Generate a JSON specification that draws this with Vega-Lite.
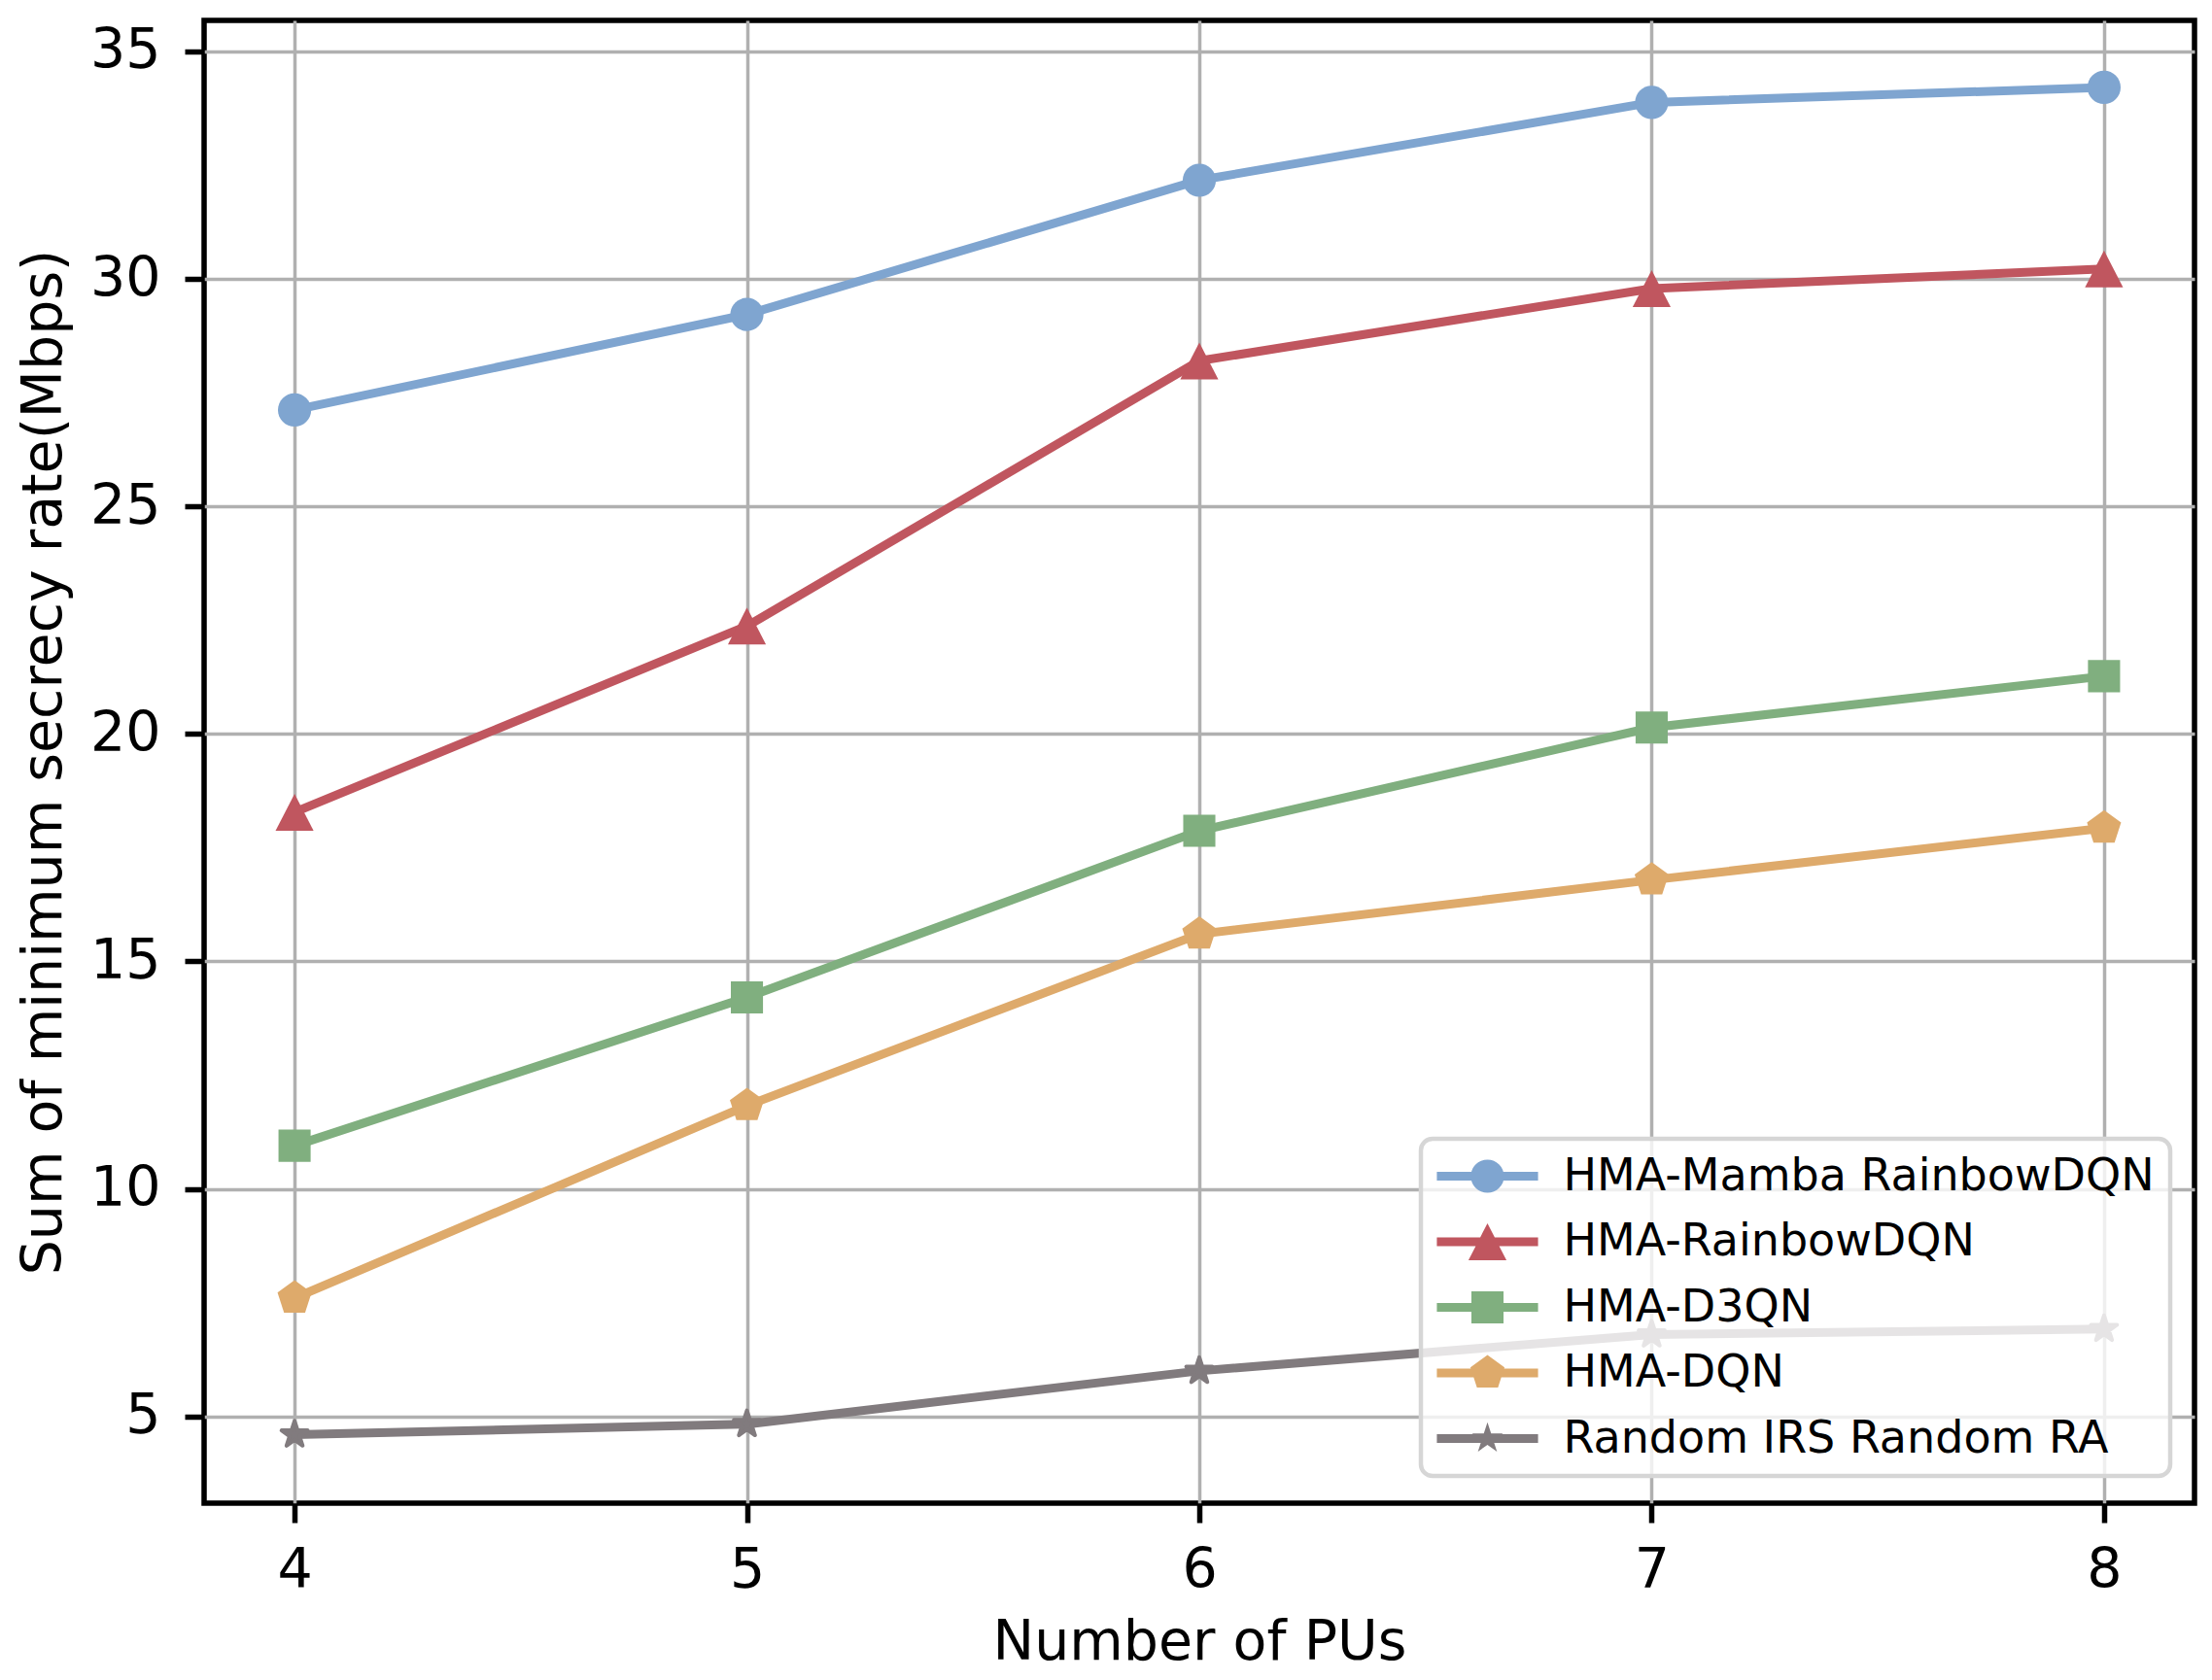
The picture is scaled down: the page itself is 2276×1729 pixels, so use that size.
{
  "$schema": "https://vega.github.io/schema/vega-lite/v6.json",
  "width": 2048,
  "height": 1526,
  "autosize": {"type": "none"},
  "padding": {"left": 210, "top": 21, "right": 18, "bottom": 182},
  "background": "white",
  "config": {
    "font": "DejaVu Sans",
    "view": {"stroke": "black", "strokeWidth": 5.5},
    "axis": {
      "domain": false,
      "grid": true,
      "gridColor": "#b0b0b0",
      "gridWidth": 3.5,
      "gridOpacity": 1,
      "tickColor": "black",
      "tickSize": 20,
      "tickWidth": 5.5,
      "labelFont": "DejaVu Sans",
      "labelFontSize": 57,
      "labelColor": "black",
      "titleFont": "DejaVu Sans",
      "titleFontSize": 57,
      "titleFontWeight": "normal",
      "titleColor": "black"
    }
  },
  "data": {
    "values": [
      {"s": "HMA-Mamba RainbowDQN", "n": 4, "v": 27.12},
      {"s": "HMA-Mamba RainbowDQN", "n": 5, "v": 29.22},
      {"s": "HMA-Mamba RainbowDQN", "n": 6, "v": 32.17},
      {"s": "HMA-Mamba RainbowDQN", "n": 7, "v": 33.88},
      {"s": "HMA-Mamba RainbowDQN", "n": 8, "v": 34.21},
      {"s": "HMA-RainbowDQN", "n": 4, "v": 18.28},
      {"s": "HMA-RainbowDQN", "n": 5, "v": 22.37},
      {"s": "HMA-RainbowDQN", "n": 6, "v": 28.2},
      {"s": "HMA-RainbowDQN", "n": 7, "v": 29.79},
      {"s": "HMA-RainbowDQN", "n": 8, "v": 30.22},
      {"s": "HMA-D3QN", "n": 4, "v": 10.95},
      {"s": "HMA-D3QN", "n": 5, "v": 14.21},
      {"s": "HMA-D3QN", "n": 6, "v": 17.87},
      {"s": "HMA-D3QN", "n": 7, "v": 20.14},
      {"s": "HMA-D3QN", "n": 8, "v": 21.27},
      {"s": "HMA-DQN", "n": 4, "v": 7.6},
      {"s": "HMA-DQN", "n": 5, "v": 11.83},
      {"s": "HMA-DQN", "n": 6, "v": 15.6},
      {"s": "HMA-DQN", "n": 7, "v": 16.79},
      {"s": "HMA-DQN", "n": 8, "v": 17.93},
      {"s": "Random IRS Random RA", "n": 4, "v": 4.6},
      {"s": "Random IRS Random RA", "n": 5, "v": 4.83},
      {"s": "Random IRS Random RA", "n": 6, "v": 6.0},
      {"s": "Random IRS Random RA", "n": 7, "v": 6.8},
      {"s": "Random IRS Random RA", "n": 8, "v": 6.92}
    ]
  },
  "encoding": {
    "x": {
      "field": "n",
      "type": "quantitative",
      "scale": {"domain": [3.8, 8.2], "nice": false, "zero": false},
      "axis": {"values": [4, 5, 6, 7, 8], "format": "d", "title": "Number of PUs", "labelPadding": 21, "titlePadding": 18}
    },
    "y": {
      "field": "v",
      "type": "quantitative",
      "scale": {"domain": [3.093, 35.683], "nice": false, "zero": false},
      "axis": {"values": [5, 10, 15, 20, 25, 30, 35], "format": "d", "title": "Sum of minimum secrecy rate(Mbps)", "labelPadding": 25, "titlePadding": 18}
    },
    "color": {
      "field": "s",
      "type": "nominal",
      "scale": {
        "domain": ["HMA-Mamba RainbowDQN", "HMA-RainbowDQN", "HMA-D3QN", "HMA-DQN", "Random IRS Random RA"],
        "range": ["#7fa5d0", "#c0565f", "#80af7f", "#deaa6b", "#817b7e"]
      },
      "legend": {
        "title": null,
        "orient": "none",
        "legendX": 1252,
        "legendY": 1151,
        "padding": 15.5,
        "rowPadding": 21.5,
        "symbolSize": 1444,
        "symbolOffset": 30,
        "labelOffset": 55,
        "labelFont": "DejaVu Sans",
        "labelFontSize": 46,
        "labelColor": "black",
        "labelLimit": 1000,
        "strokeColor": "#d6d6d6",
        "fillColor": "rgba(255,255,255,0.8)",
        "cornerRadius": 12,
        "symbolOpacity": 1,
        "encode": {
          "legend": {"update": {"strokeWidth": {"value": 4.5}}},
          "symbols": {
            "update": {
              "shape": {"signal": "datum.value == 'HMA-Mamba RainbowDQN' ? 'M-2.74,-0.24H2.74V0.24H-2.74Z M0.9,0A0.9,0.9 0 1,1 -0.9,0A0.9,0.9 0 1,1 0.9,0Z' : datum.value == 'HMA-RainbowDQN' ? 'M-2.74,-0.24H2.74V0.24H-2.74Z M0,-1L1.03,1L-1.03,1Z' : datum.value == 'HMA-D3QN' ? 'M-2.74,-0.24H2.74V0.24H-2.74Z M-0.87,-0.87H0.87V0.87H-0.87Z' : datum.value == 'HMA-DQN' ? 'M-2.74,-0.24H2.74V0.24H-2.74Z M0,-0.97L0.923,-0.3L0.57,0.785L-0.57,0.785L-0.923,-0.3Z' : 'M-2.74,-0.24H2.74V0.24H-2.74Z M0,-0.88L0.198,-0.272L0.837,-0.272L0.32,0.104L0.517,0.712L0,0.336L-0.517,0.712L-0.32,0.104L-0.837,-0.272L-0.198,-0.272Z'"},
              "fill": {"scale": "color", "field": "value"},
              "strokeWidth": {"value": 0},
              "opacity": {"value": 1},
              "size": {"value": 1444}
            }
          }
        }
      }
    }
  },
  "layer": [
    {
      "mark": {"type": "line", "strokeWidth": 9}
    },
    {
      "transform": [{"filter": {"field": "s", "equal": "HMA-Mamba RainbowDQN"}}],
      "mark": {"type": "point", "filled": true, "opacity": 1, "size": 1444, "shape": "M0.9,0A0.9,0.9 0 1,1 -0.9,0A0.9,0.9 0 1,1 0.9,0Z"}
    },
    {
      "transform": [{"filter": {"field": "s", "equal": "HMA-RainbowDQN"}}],
      "mark": {"type": "point", "filled": true, "opacity": 1, "size": 1444, "shape": "M0,-1L1.03,1L-1.03,1Z"}
    },
    {
      "transform": [{"filter": {"field": "s", "equal": "HMA-D3QN"}}],
      "mark": {"type": "point", "filled": true, "opacity": 1, "size": 1444, "shape": "M-0.87,-0.87H0.87V0.87H-0.87Z"}
    },
    {
      "transform": [{"filter": {"field": "s", "equal": "HMA-DQN"}}],
      "mark": {"type": "point", "filled": true, "opacity": 1, "size": 1444, "shape": "M0,-0.97L0.923,-0.3L0.57,0.785L-0.57,0.785L-0.923,-0.3Z"}
    },
    {
      "transform": [{"filter": {"field": "s", "equal": "Random IRS Random RA"}}],
      "mark": {"type": "point", "filled": true, "opacity": 1, "size": 1444, "stroke": "#817b7e", "strokeWidth": 4, "strokeJoin": "round", "shape": "M0,-0.74L0.166,-0.229L0.704,-0.229L0.269,0.087L0.435,0.599L0,0.283L-0.435,0.599L-0.269,0.087L-0.704,-0.229L-0.166,-0.229Z"}
    }
  ]
}
